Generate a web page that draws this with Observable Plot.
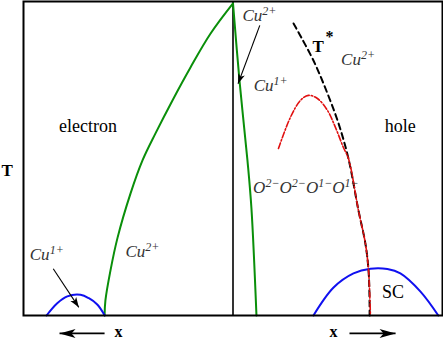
<!DOCTYPE html>
<html><head><meta charset="utf-8">
<script src="https://cdn.jsdelivr.net/npm/d3@7"></script>
<script src="https://cdn.jsdelivr.net/npm/@observablehq/plot@0.6"></script>
<style>body{margin:0;background:#fff}</style>
</head><body><div id="chart"></div>
<script>
// x: doping (electron < 0 < hole), T: temperature (arbitrary units)
const greenLeftX = [0, -10.7, -20.3, -28.9, -37.0, -43.2, -48.9, -55.1, -58.5, -60.9, -61.3];
const greenLeftT = [99.4, 89.8, 79.0, 68.5, 58.0, 49.4, 38.9, 24.8, 14.3, 4.8, 0];
const greenRightX = [0, 3.1, 6.9, 8.8, 11.2];
const greenRightT = [99.4, 74.8, 49.4, 34.1, 0];
const tStarX = [28.9, 38.4, 45.1, 50.4, 55.1, 59.9, 63.2, 64.7, 65.2, 65.2];
const tStarT = [93.0, 81.2, 70.7, 61.1, 50.0, 33.4, 22.9, 14.3, 3.8, 0];
const redX = [21.7, 27.4, 32.2, 36.0, 40.3, 45.1, 48.9, 52.7, 55.1, 59.9, 63.2, 64.7, 65.6];
const redT = [53.2, 63.1, 68.5, 70.1, 69.1, 65.3, 59.9, 53.5, 50.0, 33.4, 22.9, 14.3, 0];
const scLeftX = [-89.0, -83.9, -79.1, -72.8, -68.8, -64.8, -61.2];
const scLeftT = [0, 3.9, 6.1, 6.6, 5.5, 3.5, 0];
const scRightX = [38.4, 48.0, 57.5, 65.6, 73.7, 79.9, 89.5, 98.0];
const scRightT = [0, 8.9, 13.4, 14.9, 14.8, 13.4, 7.6, 0];

// arrows (tail -> tip)
const arrowX1 = [12.8, -85.8, -61.3, 55.6];
const arrowT1 = [92.4, 14.9, -5.7, -5.7];
const arrowX2 = [2.4, -73.6, -82.8, 77.6];
const arrowT2 = [73.8, 2.6, -5.7, -5.7];
const arrowSize = ["small", "small", "big", "big"];

// plain labels
const romanLabels = ["electron", "hole", "SC"];
const romanX = [-69.2, 79.8, 76.4];
const romanT = [58.4, 58.4, 5.5];
const boldLabels = ["T", "T"];
const boldX = [-107.8, 40.6];
const boldT = [44.3, 83.9];
const axisLabels = ["x", "x"];
const axisX = [-54.7, 48.0];
const axisT = [-5.2, -5.2];
// ion labels (start, baseline)
const ionLabels = ["Cu^{2+}", "Cu^{2+}", "Cu^{1+}", "Cu^{2+}", "Cu^{1+}", "O^{2−}O^{2−}O^{1−}O^{1−}"];
const ionX = [4.5, 51.6, 9.9, -51.3, -97.0, 9.6];
const ionT = [93.9, 79.9, 71.4, 18.6, 17.7, 39.1];

const zip = (xs, ts) => xs.map((x, i) => ({x, t: ts[i]}));
const pts = (labels, xs, ts) => labels.map((s, i) => ({s, x: xs[i], t: ts[i]}));
const green = "#0a8f0a", blue = "#1010f0", red = "#e01010";
const serif = "Liberation Serif";

const W = 443, H = 339, ML = 23, MR = 1, MT = 1, MB = 24;
const kx = (W - ML - MR) / 200, ky = (H - MT - MB) / 100; // pixels per data unit
const arrows = arrowX1.map((x1, i) => {
  const dx = (arrowX2[i] - x1) * kx, dy = -(arrowT2[i] - arrowT1[i]) * ky;
  return {x1, t1: arrowT1[i], x2: arrowX2[i], t2: arrowT2[i], size: arrowSize[i],
          angle: Math.atan2(dx, -dy) * 180 / Math.PI};
});
const headShape = (L, Wd) => ({
  draw(context) {
    context.moveTo(0, 0);
    context.lineTo(-Wd, L);
    context.lineTo(0, 0.75 * L);
    context.lineTo(Wd, L);
    context.closePath();
  }
});

function baseMarks() {
  return [
    Plot.ruleX([0], {y1: 0, y2: 100, stroke: "#000", strokeWidth: 1.6}),
    Plot.line(zip(greenLeftX, greenLeftT), {x: "x", y: "t", curve: "catmull-rom", stroke: green, strokeWidth: 2}),
    Plot.line(zip(greenRightX, greenRightT), {x: "x", y: "t", curve: "catmull-rom", stroke: green, strokeWidth: 2}),
    Plot.line(zip(scLeftX, scLeftT), {x: "x", y: "t", curve: "catmull-rom", stroke: blue, strokeWidth: 2}),
    Plot.line(zip(scRightX, scRightT), {x: "x", y: "t", curve: "catmull-rom", stroke: blue, strokeWidth: 2}),
    Plot.line(zip(tStarX, tStarT), {x: "x", y: "t", curve: "catmull-rom", stroke: "#000", strokeWidth: 2, strokeDasharray: "6,4"}),
    Plot.line(zip(redX, redT), {x: "x", y: "t", curve: "catmull-rom", stroke: red, strokeWidth: 1.6, strokeDasharray: "6,2,1.5,2"}),
    Plot.frame({stroke: "#000", strokeWidth: 2}),
    Plot.link(arrows.filter(d => d.size === "small"), {x1: "x1", y1: "t1", x2: "x2", y2: "t2", stroke: "#000", strokeWidth: 1.1}),
    Plot.link(arrows.filter(d => d.size === "big"), {x1: "x1", y1: "t1", x2: "x2", y2: "t2", stroke: "#000", strokeWidth: 1.6}),
    Plot.text(pts(romanLabels, romanX, romanT), {x: "x", y: "t", text: "s", fontFamily: serif, fontSize: 18, lineAnchor: "bottom", fill: "#000", ariaDescription: "lab"}),
    Plot.text(pts(boldLabels, boldX, boldT), {x: "x", y: "t", text: "s", fontFamily: serif, fontSize: 17, fontWeight: "bold", lineAnchor: "bottom", fill: "#000", ariaDescription: "lab"}),
    Plot.text(pts(axisLabels, axisX, axisT), {x: "x", y: "t", text: "s", fontFamily: serif, fontSize: 16, fontWeight: "bold", lineAnchor: "middle", fill: "#000", ariaDescription: "lab"}),
    Plot.text([{s: "*", x: 46.1, t: 87.0}], {x: "x", y: "t", text: "s", fontFamily: serif, fontSize: 16, fontWeight: "bold", lineAnchor: "bottom", fill: "#000", ariaDescription: "lab"}),
    Plot.text(pts(ionLabels, ionX, ionT), {x: "x", y: "t", text: "s", fontFamily: serif, fontSize: 17, fontStyle: "italic", textAnchor: "start", lineAnchor: "bottom", fill: "#333", ariaDescription: "ion"})
  ];
}
const opts = marks => ({
  width: W, height: H, marginLeft: ML, marginRight: MR, marginTop: MT, marginBottom: MB,
  x: {domain: [-100, 100], axis: null},
  y: {domain: [0, 100], axis: null},
  marks
});

let chart;
try {
  chart = Plot.plot(opts([
    ...baseMarks(),
    Plot.vector(arrows.filter(d => d.size === "small"), {x: "x2", y: "t2", rotate: "angle", length: 10, anchor: "start", shape: headShape(10, 3.5), fill: "#000", stroke: "none"}),
    Plot.vector(arrows.filter(d => d.size === "big"), {x: "x2", y: "t2", rotate: "angle", length: 16, anchor: "start", shape: headShape(16, 4.5), fill: "#000", stroke: "none"})
  ]));
} catch (e) {
  chart = Plot.plot(opts([
    ...baseMarks(),
    Plot.arrow(arrows, {x1: "x1", y1: "t1", x2: "x2", y2: "t2", stroke: "#000", strokeWidth: 1.3, headLength: 9})
  ]));
}

const NS = "http://www.w3.org/2000/svg";
chart.setAttribute("font-family", serif);
chart.querySelectorAll("g").forEach(g => { if (g.querySelector("text")) g.setAttribute("font-family", serif); });
chart.querySelectorAll("text").forEach(el => el.setAttribute("font-family", serif));

chart.querySelectorAll('g[aria-description="ion"] text').forEach(el => {
  const s = el.textContent;
  while (el.firstChild) el.removeChild(el.firstChild);
  const re = /([^^]+)|\^\{([^}]*)\}/g;
  let m, raised = false;
  while ((m = re.exec(s))) {
    const t = document.createElementNS(NS, "tspan");
    t.setAttribute("font-family", serif);
    if (m[1] !== undefined) {
      t.textContent = m[1];
      if (raised) { t.setAttribute("dy", "6"); raised = false; }
    } else {
      t.textContent = m[2];
      t.setAttribute("font-size", "12");
      t.setAttribute("dy", "-6");
      raised = true;
    }
    el.appendChild(t);
  }
});

document.getElementById("chart").appendChild(chart);
</script>
</body></html>
